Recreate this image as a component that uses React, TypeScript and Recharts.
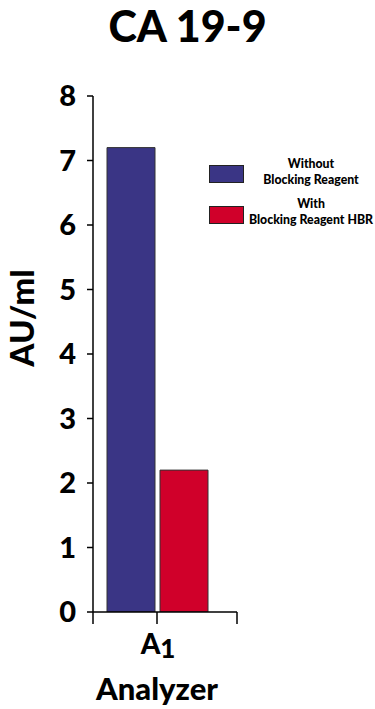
import { BarChart, Bar, XAxis, YAxis, Legend } from "recharts";

const categories = ["A1"];
const withoutBlocking = [7.2];
const withBlocking = [2.2];
const yTicks = [0, 1, 2, 3, 4, 5, 6, 7, 8];

const seriesNames = ["Without\nBlocking Reagent", "With\nBlocking Reagent HBR"];
const COLORS = ["#3a3585", "#d0002a"];

const data = categories.map((name, i) => ({
  name,
  without: withoutBlocking[i],
  with: withBlocking[i],
}));

const FONT = "Lato, 'Open Sans', sans-serif";
const W = 375;
const H = 709;
const PLOT_LEFT = 93;
const PLOT_RIGHT = 237;
const PLOT_TOP = 96;
const PLOT_BOTTOM = 612;

function XTick(props: any) {
  const { x, y, payload } = props;
  const label: string = payload.value;
  return (
    <g>
      <line x1={x} y1={y - 8} x2={x} y2={y + 4} stroke="#000" strokeWidth={1.5} />
      <line x1={PLOT_LEFT} y1={y - 8} x2={PLOT_LEFT} y2={y + 4} stroke="#000" strokeWidth={1.5} />
      <line x1={PLOT_RIGHT} y1={y - 8} x2={PLOT_RIGHT} y2={y + 4} stroke="#000" strokeWidth={1.5} />
      <text x={x + 1} y={y + 34} textAnchor="middle" fontFamily={FONT} fontWeight={900} fontSize={28} fill="#000">
        {label.charAt(0)}
        <tspan fontSize={26} dy={4}>{label.slice(1)}</tspan>
      </text>
      <text x={x} y={y + 80} textAnchor="middle" fontFamily={FONT} fontWeight={900} fontSize={31} fill="#000">
        Analyzer
      </text>
    </g>
  );
}

function LegendBox() {
  return (
    <div style={{ fontFamily: FONT, fontWeight: 900, fontSize: 12.3, lineHeight: "16px", color: "#000" }}>
      {seriesNames.map((n, i) => (
        <div key={n} style={{ display: "flex", alignItems: "center", height: 40 }}>
          <div
            style={{
              width: 33,
              height: 16,
              background: COLORS[i],
              border: "1px solid #222",
              marginRight: 4,
              marginTop: i === 0 ? 3 : 5,
            }}
          />
          <div style={{ width: 126, textAlign: "center", whiteSpace: "pre" }}>{n}</div>
        </div>
      ))}
    </div>
  );
}

export default function App() {
  return (
    <div style={{ position: "absolute", left: 0, top: 0, width: W, height: H, background: "#fff" }}>
      <div
        style={{
          position: "absolute",
          left: 0,
          top: 0,
          width: W,
          lineHeight: "52px",
          textAlign: "center",
          fontFamily: FONT,
          fontWeight: 900,
          fontSize: 43,
        }}
      >
        CA 19-9
      </div>
      <div
        style={{
          position: "absolute",
          left: 21,
          top: 318,
          transform: "translate(-50%, -50%) rotate(-90deg)",
          fontFamily: FONT,
          fontWeight: 900,
          fontSize: 33,
          whiteSpace: "nowrap",
        }}
      >
        AU/ml
      </div>
      <BarChart
        width={W}
        height={H}
        data={data}
        margin={{ top: PLOT_TOP, right: W - PLOT_RIGHT, left: 0, bottom: H - PLOT_BOTTOM - 40 }}
        barGap={5}
        barCategoryGap={14}
        style={{ position: "absolute", left: 0, top: 0 }}
      >
        <XAxis
          dataKey="name"
          height={40}
          padding={{ left: 0, right: 16 }}
          axisLine={{ stroke: "#000", strokeWidth: 1.5 }}
          tickLine={false}
          tick={<XTick />}
        />
        <YAxis
          width={PLOT_LEFT}
          domain={[0, 8]}
          ticks={yTicks}
          allowDataOverflow
          axisLine={{ stroke: "#000", strokeWidth: 1.5 }}
          tickLine={{ stroke: "#000", strokeWidth: 1.5 }}
          tickSize={6}
          tickMargin={11}
          tick={{ fill: "#000", fontSize: 29, fontWeight: 900, fontFamily: FONT }}
        />
        <Legend
          layout="horizontal"
          verticalAlign="middle"
          align="center"
          content={<LegendBox />}
          wrapperStyle={{ left: 209, top: 152, width: 166 }}
        />
        <Bar dataKey="without" name={seriesNames[0]} fill={COLORS[0]} stroke="#333" strokeWidth={1} isAnimationActive={false} />
        <Bar dataKey="with" name={seriesNames[1]} fill={COLORS[1]} stroke="#333" strokeWidth={1} isAnimationActive={false} />
      </BarChart>
    </div>
  );
}
